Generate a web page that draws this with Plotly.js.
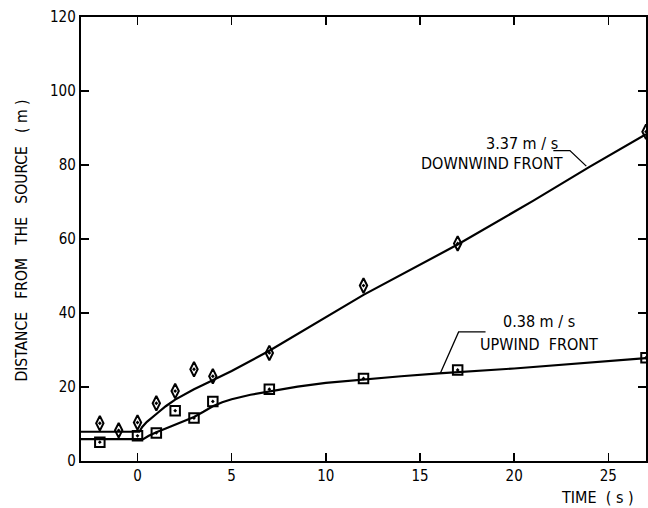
<!DOCTYPE html>
<html>
<head>
<meta charset="utf-8">
<script src="https://cdn.plot.ly/plotly-3.0.1.min.js"></script>
<style>html,body{margin:0;padding:0;background:#fff;}#chart{width:648px;height:508px;}</style>
</head>
<body>
<div id="chart"></div>
<script>
// Measured points
const downTime = [-2, -1, 0, 1, 2, 3, 4, 7, 12, 17, 27];
const downDist = [10.2, 8.3, 10.4, 15.6, 18.9, 24.8, 22.9, 29.2, 47.4, 58.8, 89];
const upTime = [-2, 0, 1, 2, 3, 4, 7, 12, 17, 27];
const upDist = [5.1, 6.8, 7.6, 13.6, 11.6, 16.1, 19.4, 22.3, 24.6, 27.9];

// Fitted curves
const downFitTime = [-3, 0.1, 0.25, 0.5, 1, 1.5, 2, 2.5, 3, 3.5, 4, 5, 7, 10, 12, 17, 21, 24, 27];
const downFitDist = [7.9, 7.9, 9.2, 10.6, 12.7, 14.8, 16.6, 18.1, 19.4, 20.6, 21.8, 24.3, 29.8, 38.9, 44.9, 58.5, 70.3, 79.5, 88.3];
const upFitTime = [-3, 0.3, 0.6, 1, 1.5, 2, 2.5, 3, 3.5, 4, 4.5, 5, 6, 7, 8.5, 10, 12, 14, 16, 20, 27];
const upFitDist = [5.9, 5.9, 6.8, 7.8, 8.8, 9.8, 10.8, 11.9, 13.3, 14.8, 15.9, 16.7, 17.9, 18.8, 20.1, 21.1, 22.1, 22.9, 23.7, 25.0, 27.8];

const xTicks = [0, 5, 10, 15, 20, 25];
const yTicks = [0, 20, 40, 60, 80, 100, 120];

const FONT = 'DejaVu Sans Condensed, DejaVu Sans, sans-serif';
const NB = '\u00A0';
const yTitle = ['DISTANCE', 'FROM', 'THE', 'SOURCE', '(' + NB + 'm' + NB + ')'].join(NB + NB + NB);
const xTitle = 'TIME' + NB + NB + '(' + NB + 's' + NB + ')';

const traces = [
  {x: downFitTime, y: downFitDist, mode: 'lines', line: {color: '#000', width: 2.2, shape: 'linear'}, hoverinfo: 'skip'},
  {x: upFitTime, y: upFitDist, mode: 'lines', line: {color: '#000', width: 2.2, shape: 'linear'}, hoverinfo: 'skip'},
  {x: downTime, y: downDist, mode: 'markers', marker: {symbol: 'diamond-tall-open-dot', size: 10.5, color: '#000', line: {width: 2, color: '#000'}}},
  {x: upTime, y: upDist, mode: 'markers', marker: {symbol: 'square-open-dot', size: 9.5, color: '#000', line: {width: 2, color: '#000'}}}
];

const layout = {
  width: 648, height: 508,
  margin: {l: 81, r: 2, t: 17, b: 47},
  paper_bgcolor: '#fff', plot_bgcolor: '#fff',
  showlegend: false,
  font: {family: FONT, size: 15, color: '#000'},
  xaxis: {
    range: [-3, 27], tickvals: xTicks, ticktext: xTicks.map(String),
    ticks: 'inside', ticklen: 8, tickwidth: 1.5, tickcolor: '#000',
    showline: true, linewidth: 2.2, linecolor: '#000', mirror: 'ticks',
    showgrid: false, zeroline: false,
    tickfont: {family: FONT, size: 15, color: '#000'}
  },
  yaxis: {
    range: [0, 120], tickvals: yTicks, ticktext: yTicks.map(String),
    ticks: 'inside', ticklen: 8, tickwidth: 1.5, tickcolor: '#000',
    showline: true, linewidth: 2.2, linecolor: '#000', mirror: 'ticks',
    showgrid: false, zeroline: false,
    tickfont: {family: FONT, size: 15, color: '#000'}
  },
  annotations: [
    {xref: 'paper', yref: 'paper', x: -0.104, y: 0.497, text: yTitle, textangle: -90, showarrow: false, xanchor: 'center', yanchor: 'middle', font: {family: FONT, size: 15.5, color: '#000'}},
    {xref: 'paper', yref: 'paper', x: 0.983, y: -0.083, text: xTitle, showarrow: false, xanchor: 'right', yanchor: 'middle', font: {family: FONT, size: 16, color: '#000'}},
    {xref: 'x', yref: 'y', x: 20.4, y: 85.9, text: '3.37' + NB + 'm' + NB + '/' + NB + 's', showarrow: false, xanchor: 'center', yanchor: 'middle', font: {family: FONT, size: 16, color: '#000'}},
    {xref: 'x', yref: 'y', x: 18.8, y: 80.5, text: 'DOWNWIND' + NB + 'FRONT', showarrow: false, xanchor: 'center', yanchor: 'middle', font: {family: FONT, size: 16, color: '#000'}},
    {xref: 'x', yref: 'y', x: 21.3, y: 37.6, text: '0.38' + NB + 'm' + NB + '/' + NB + 's', showarrow: false, xanchor: 'center', yanchor: 'middle', font: {family: FONT, size: 16, color: '#000'}},
    {xref: 'x', yref: 'y', x: 21.3, y: 31.4, text: 'UPWIND' + NB + NB + 'FRONT', showarrow: false, xanchor: 'center', yanchor: 'middle', font: {family: FONT, size: 16, color: '#000'}}
  ],
  shapes: [
    {type: 'path', xref: 'x', yref: 'y', path: 'M 22.08 83.9 L 22.96 83.9 L 23.83 79.7', line: {color: '#000', width: 1.3}},
    {type: 'path', xref: 'x', yref: 'y', path: 'M 18.48 34.9 L 17.05 34.9 L 16.08 23.7', line: {color: '#000', width: 1.3}}
  ]
};

Plotly.newPlot('chart', traces, layout, {displayModeBar: false, staticPlot: true});
</script>
</body>
</html>
